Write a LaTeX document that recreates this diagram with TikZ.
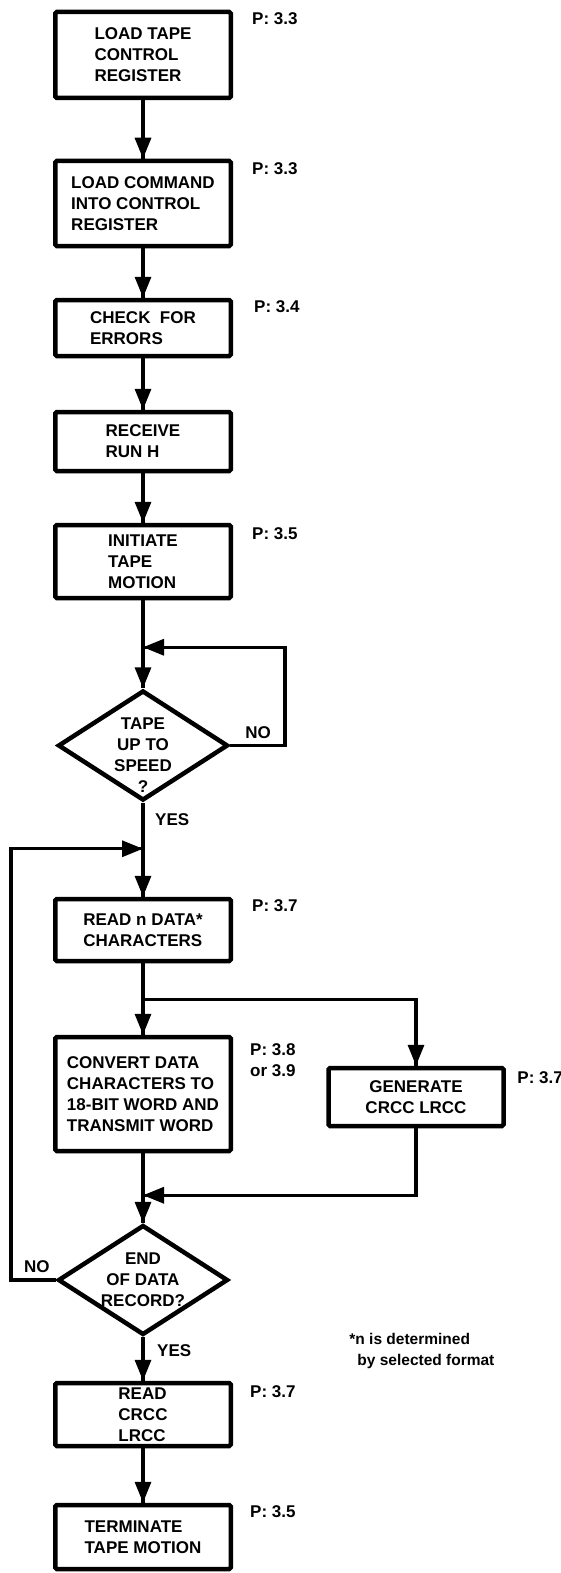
\documentclass[tikz,border=0pt]{standalone}
\usepackage{fontspec}
\setmainfont{Liberation Sans}
\usetikzlibrary{calc}
\usetikzlibrary{arrows.meta,decorations.markings,shapes.geometric}
\newcommand{\boxfont}{\bfseries\fontsize{17}{21}\selectfont}
\newcommand{\notefont}{\bfseries\fontsize{15.5}{21}\selectfont}
\tikzset{
    procbox/.style={draw, line width=4.5pt, rounded corners=1.5pt, minimum width=175.5pt, align=left, font=\boxfont},
    decision/.style={diamond, draw, line width=4.5pt, aspect=1.5, inner sep=0pt, minimum width=170pt, align=center, font=\boxfont},
    conn/.style={line width=3.3pt},
    flow/.style={conn, decoration={markings,mark=at position 1 with {\arrow{Triangle[length=21pt,width=16pt]}}},postaction={decorate}},
    plabel/.style={anchor=west, inner sep=0pt, align=left, font=\boxfont}
}

\begin{document}
\begin{tikzpicture}[x=1pt, y=-1pt]
			\useasboundingbox (0,0) rectangle (560,1573);

			\node[procbox, minimum height=86pt] (load) at (143,55) {LOAD TAPE\\CONTROL\\REGISTER};
			\node[procbox, minimum height=85pt] (cmd) at ($(load)+(0,148.5)$) {LOAD COMMAND\\INTO CONTROL\\REGISTER};
			\node[procbox, minimum height=56pt] (check) at ($(cmd)+(0,124.5)$) {CHECK\ \ FOR\\ERRORS};
			\node[procbox, minimum height=59pt] (recv) at ($(check)+(0,113.5)$) {RECEIVE\\RUN H};
			\node[procbox, minimum height=73pt] (init) at ($(recv)+(0,120)$) {INITIATE\\TAPE\\MOTION};
			\node[decision, minimum height=110pt,
			      label={[font=\boxfont, align=center, yshift=-10pt]center:TAPE\\UP TO\\SPEED\\?}] (speed) at ($(init)+(0,184)$) {};
			\node[procbox, minimum height=62pt] (readn) at ($(speed)+(0,184.5)$) {READ n DATA*\\CHARACTERS};
			\node[procbox, minimum height=114pt] (conv) at ($(readn)+(0,164)$) {CONVERT DATA\\CHARACTERS TO\\18-BIT WORD AND\\TRANSMIT WORD};
			\node[procbox, minimum width=175pt, minimum height=58pt, align=center] (gen) at ($(conv)+(273,3)$) {GENERATE\\CRCC LRCC};
			\node[decision, minimum height=106pt] (eod) at ($(conv)+(0,186)$) {END\\OF DATA\\RECORD?};
			\node[procbox, minimum height=63pt] (readcc) at ($(eod)+(0,134.5)$) {READ\\CRCC\\LRCC};
			\node[procbox, minimum height=64pt] (term) at ($(readcc)+(0,122.5)$) {TERMINATE\\TAPE MOTION};

			% page references
			\node[plabel] (p1) at ($(load.north east)+(19,9)$) {P: 3.3};
			\node[plabel] (p2) at ($(cmd.north east)+(19,10)$) {P: 3.3};
			\node[plabel] (p3) at ($(check.north east)+(21,9)$) {P: 3.4};
			\node[plabel] (p5) at ($(init.north east)+(19,11)$) {P: 3.5};
			\node[plabel] (p6) at ($(readn.north east)+(19,9)$) {P: 3.7};
			\node[plabel] (p7) at ($(conv.north east)+(17,25)$) {P: 3.8\\or 3.9};
			\node[plabel] (p8) at ($(gen.north east)+(11.5,12)$) {P: 3.7};
			\node[plabel] (p9) at ($(readcc.north east)+(17,11)$) {P: 3.7};
			\node[plabel] (p10) at ($(term.north east)+(17,9)$) {P: 3.5};

			\node[plabel] (no1) at ($(speed.east)+(15,-12.5)$) {NO};
			\node[plabel] (yes1) at ($(speed.south)+(12,17)$) {YES};
			\node[plabel, anchor=east] (no2) at ($(eod.west)+(-6,-13)$) {NO};
			\node[plabel] (yes2) at ($(eod.south)+(14,13)$) {YES};
			\node[plabel, font=\notefont] (note) at ($(eod.east)+(119,70.5)$) {*n is determined\\\hspace*{8pt}by selected format};

			% junctions
			\coordinate (j1) at ($(init.south)+(0,47)$);
			\coordinate (nocorner) at ($(j1)+(142,0)$);
			\coordinate (j2) at ($(speed.south)+(0,46)$);
			\coordinate (backcorner) at ($(j2)+(-132,0)$);
			\coordinate (j3) at ($(readn.south)+(0,36)$);
			\coordinate (j4) at ($(conv.south)+(0,42)$);

			\draw[flow] (load) -- (cmd);
			\draw[flow] (cmd) -- (check);
			\draw[flow] (check) -- (recv);
			\draw[flow] (recv) -- (init);
			\draw[conn] (init) -- (j1);
			\draw[flow] (j1) -- (speed);
			\draw[flow] (speed.east) -| (nocorner) -- (j1);
			\draw[conn] (speed) -- (j2);
			\draw[flow] (j2) -- (readn);
			\draw[conn] (readn) -- (j3);
			\draw[flow] (j3) -- (conv);
			\draw[flow] (j3) -| (gen);
			\draw[conn] (conv) -- (j4);
			\draw[flow] (gen) |- (j4);
			\draw[flow] (j4) -- (eod);
			\draw[flow] (eod.west) -| (backcorner) -- (j2);
			\draw[flow] (eod) -- (readcc);
			\draw[flow] (readcc) -- (term);

		\end{tikzpicture}
\end{document}
